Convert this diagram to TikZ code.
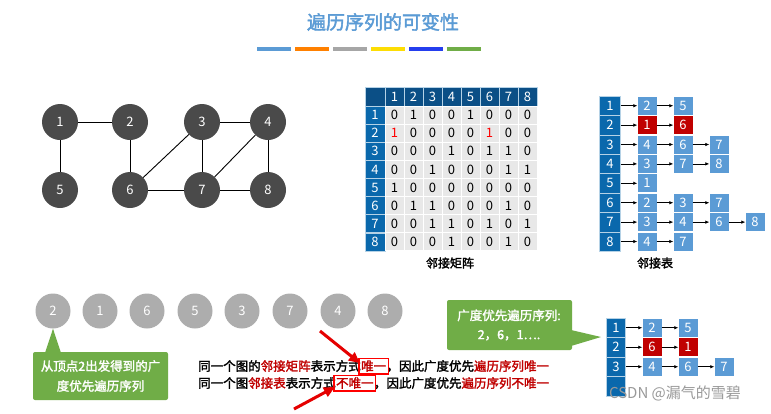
\documentclass[tikz,border=0pt]{standalone}
\usepackage{fontspec}
\setmainfont{Noto Sans CJK SC}[AutoFakeBold=2]
\usetikzlibrary{arrows.meta}
\definecolor{dg}{HTML}{4A4A4A}
\definecolor{lb}{HTML}{5B9BD5}
\definecolor{db}{HTML}{0A68AC}
\definecolor{hb}{HTML}{0B4F86}
\definecolor{rd}{HTML}{C00000}
\definecolor{gr}{HTML}{70AD47}
\definecolor{cg}{HTML}{E8E8E8}
\tikzset{
  gnode/.style={circle,fill=dg,minimum size=36pt,inner sep=0pt,text=white,font=\fontsize{13}{13}\selectfont},
  qnode/.style={circle,fill=black!32,minimum size=35pt,inner sep=0pt,text=white,font=\fontsize{13}{13}\selectfont},
  gedge/.style={line width=0.9pt,black},
  hcell/.style={draw=white!70!db,line width=0.6pt,fill=db,text=white,minimum width=20pt,minimum height=18pt,inner sep=0pt,font=\fontsize{13}{13}\selectfont},
  mcell/.style={draw=white,line width=0.8pt,fill=cg,minimum width=19pt,minimum height=18pt,inner sep=0pt,font=\fontsize{13}{13}\selectfont},
  lcell/.style={fill=lb,text=white,minimum width=19pt,minimum height=18pt,inner sep=0pt,font=\fontsize{13}{13}\selectfont},
  rcell/.style={lcell,fill=rd},
  larr/.style={-{Latex[length=4pt,width=3.5pt]},line width=0.7pt,black},
  btxt/.style={font=\fontsize{12.5}{13}\selectfont\bfseries,anchor=west,inner sep=0pt},
  rbox/.style={draw=red,line width=1.2pt},
  rarr/.style={-{Triangle[length=11pt,width=10pt]},line width=3pt,red!90!black},
}
\begin{document}
\begin{tikzpicture}[x=1pt,y=-1pt]
\useasboundingbox (0,0) rectangle (771,413);
\fill[white] (0,0) rectangle (771,413);
% title
\node (title) at (383,22) {\fontsize{19}{19}\selectfont\bfseries\color{lb}遍历序列的可变性};
\foreach \x/\c in {257/lb,295/orange,333/black!35,371/yellow!80!orange,409/blue!60!lb,447/gr}
  \fill[\c] (\x,47) rectangle ++(34,3.5);
% graph
\foreach \n/\x/\y in {1/60/122,2/130/122,3/202/122,4/268/122,5/60/190,6/130/190,7/202/190,8/268/190}
  \node[gnode] (g\n) at (\x,\y) {\n};
\foreach \a/\b in {1/2,1/5,2/6,3/4,3/6,3/7,4/7,4/8,6/7,7/8}
  \draw[gedge] (g\a) -- (g\b);
% matrix
\node[hcell,fill=hb,minimum width=20pt,minimum height=19pt] (m00) at (375,96.5) {};
\foreach \j in {1,...,8}
  \node[hcell,fill=hb,minimum width=19pt,minimum height=19pt] (m0\j) at ({375.5+19*\j},96.5) {\j};
\foreach \i/\row in {1/{0,1,0,0,1,0,0,0},2/{1,0,0,0,0,1,0,0},3/{0,0,0,1,0,1,1,0},4/{0,0,1,0,0,0,1,1},5/{1,0,0,0,0,0,0,0},6/{0,1,1,0,0,0,1,0},7/{0,0,1,1,0,1,0,1},8/{0,0,0,1,0,0,1,0}}{
  \node[hcell] (m\i0) at (375,{97+18.1*\i}) {\i};
  \foreach \v [count=\j] in \row {
    \node[mcell] (m\i\j) at ({375.5+19*\j},{97+18.1*\i}) {\v};
  }
}
\node[mcell,text=red] at (m21) {1};
\node[mcell,text=red] at (m26) {1};
\node (mlab) at (450,263) {\fontsize{12}{12}\selectfont\bfseries 邻接矩阵};
% adjacency list
\foreach \i/\lst in {1/{2,5},2/{1,6},3/{4,6,7},4/{3,7,8},5/{1},6/{2,3,7},7/{3,4,6,8},8/{4,7}}{
  \node[hcell,minimum width=21pt,minimum height=19.4pt] (h\i) at (610,{96+19.4*\i-9.7}) {\i};
  \foreach \v [count=\j] in \lst {
    \node[lcell] (a\i\j) at ({647+36*(\j-1)},{96+19.4*\i-9.7}) {\v};
  }
}
\node[rcell] at (a21) {1};
\node[rcell] at (a22) {6};
\foreach \i in {1,...,8} \draw[larr] (h\i) -- (a\i1);
\foreach \p/\q in {11/12,21/22,31/32,32/33,41/42,42/43,61/62,62/63,71/72,72/73,73/74,81/82}
  \draw[larr] (a\p) -- (a\q);
\node (llab) at (655,263) {\fontsize{12}{12}\selectfont\bfseries 邻接表};
% sequence
\foreach \v/\x [count=\k] in {2/53,1/100,6/147,5/195,3/242,7/290,4/338,8/385}
  \node[qnode] (q\k) at (\x,311) {\v};
% left callout
\fill[gr,rounded corners=2pt] (33,352) rectangle (168,400);
\fill[gr] (45,353) -- (q1.south) -- (61,353) -- cycle;
\node[text=white,align=center,font=\fontsize{12.5}{20}\selectfont\bfseries] (lc) at (100.5,376) {从顶点2出发得到的广\\度优先遍历序列};
% right callout
\fill[gr,rounded corners=2pt] (447,300) rectangle (572,350);
\coordinate (tip) at (601,337);
\fill[gr] (571,330) -- (tip) -- (571,346) -- cycle;
\node[text=white,align=center,font=\fontsize{12.5}{19}\selectfont\bfseries] (rc) at (509,325) {广度优先遍历序列:\\2，6，1….};
% small adjacency list
\foreach \i/\lst in {1/{2,5},2/{6,1},3/{4,6,7}}{
  \node[hcell,minimum width=19pt,minimum height=19.5pt] (s\i) at (616,{318+19.5*\i-9.75}) {\i};
  \foreach \v [count=\j] in \lst {
    \node[lcell] (b\i\j) at ({652+36*(\j-1)},{318+19.5*\i-9.75}) {\v};
  }
}
\node[rcell] at (b21) {6};
\node[rcell] at (b22) {1};
\node[hcell,minimum width=19pt,minimum height=19.5pt] (s4) at (616,{318+19.5*4-9.75}) {};
\draw[larr] (s1) -- (b11); \draw[larr] (b11) -- (b12);
\draw[larr] (s2) -- (b21); \draw[larr] (b21) -- (b22);
\draw[larr] (s3) -- (b31); \draw[larr] (b31) -- (b32); \draw[larr] (b32) -- (b33);
% text lines
\node[btxt] (t1a) at (198,366) {同一个图的\textcolor{rd}{邻接矩阵}表示方式};
\node[btxt,anchor=base west,text=rd] (t1b) at (t1a.base east) {唯一};
\node[btxt,anchor=base west] (t1c) at (t1b.base east) {，因此广度优先\textcolor{rd}{遍历序列唯一}};
\node[btxt] (t2a) at (198,383) {同一个图\textcolor{rd}{邻接表}表示方式};
\node[btxt,anchor=base west,text=rd] (t2b) at (t2a.base east) {不唯一};
\node[btxt,anchor=base west] (t2c) at (t2b.base east) {，因此广度优先\textcolor{rd}{遍历序列不唯一}};
\draw[rbox] ([xshift=-2pt,yshift=-2pt]t1b.south west) rectangle ([xshift=2pt,yshift=2pt]t1b.north east);
\draw[rbox] ([xshift=-2pt,yshift=-2pt]t2b.south west) rectangle ([xshift=2pt,yshift=2pt]t2b.north east);
\coordinate (ra1) at (320,331);
\coordinate (ra2) at (294,409);
\draw[rarr] (ra1) -- ([xshift=-1pt,yshift=-3pt]t1b.north west);
\draw[rarr] (ra2) -- ([xshift=-1pt,yshift=2pt]t2b.south west);
% watermark
\node[text=black!40,font=\fontsize{15}{15}\selectfont] (wm) at (675,393) {CSDN @漏气的雪碧};
\end{tikzpicture}
\end{document}
